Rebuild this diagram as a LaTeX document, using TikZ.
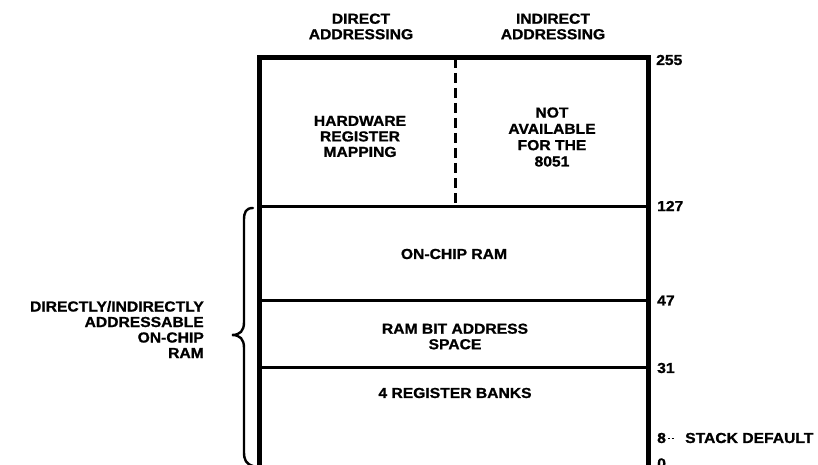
\documentclass[tikz,border=0pt]{standalone}
\usepackage{fontspec}
\newfontfamily\hw{Liberation Sans}[FakeStretch=1.08,FakeBold=1]
\begin{document}
\begin{tikzpicture}[x=1pt,y=-1pt,
  lbl/.style={font=\hw\bfseries\fontsize{14.5}{15.5}\selectfont, align=center, inner sep=0pt},
  num/.style={lbl, anchor=west},
  outer/.style={line width=5pt, line join=miter},
  divider/.style={line width=3pt},
  dashdiv/.style={line width=3pt, dash pattern=on 10pt off 5pt}]
\useasboundingbox (0,0) rectangle (818,465);
\clip (0,0) rectangle (818,465);
% frame coordinates
\coordinate (tl) at (259,58);
\coordinate (tr) at (648,58);
\coordinate (bl) at (259,490);
\coordinate (br) at (648,490);
\coordinate (l127) at (259,206); \coordinate (r127) at (648,206);
\coordinate (l47) at (259,300);  \coordinate (r47) at (648,300);
\coordinate (l31) at (259,367);  \coordinate (r31) at (648,367);
\coordinate (dtop) at (455,58);  \coordinate (dbot) at (455,206);
% frame
\draw[outer] (bl) -- (tl) -- (tr) -- (br);
\draw[outer] (bl) -- (br);
\draw[divider] (l127) -- (r127);
\draw[divider] (l47) -- (r47);
\draw[divider] (l31) -- (r31);
\draw[dashdiv] (dtop) -- (dbot);
% headers
\node[lbl] (hdir) at (361,26.5) {DIRECT\\ADDRESSING};
\node[lbl] (hind) at (553,26.5) {INDIRECT\\ADDRESSING};
% region texts
\node[lbl] (hw) at (360,136.5) {HARDWARE\\REGISTER\\MAPPING};
\node[lbl, font=\hw\bfseries\fontsize{14.5}{16.3}\selectfont] (na) at (552,137) {NOT\\AVAILABLE\\FOR THE\\8051};
\node[lbl] (ram) at (454,254) {ON-CHIP RAM};
\node[lbl] (bit) at (455,336.5) {RAM BIT ADDRESS\\SPACE};
\node[lbl] (banks) at (455,393) {4 REGISTER BANKS};
% address numbers
\node[num] (n255) at (656,60) {255};
\node[num] (n127) at (657,206) {127};
\node[num] (n47) at (657,300.5) {47};
\node[num] (n31) at (657,368) {31};
\node[num] (n8) at (657,438) {8};
\node[num] (n0) at (657,463.5) {0};
\node[num] (stack) at (685,438) {STACK DEFAULT};
\draw[line width=0.8pt, dash pattern=on 2pt off 1.5pt] (n8.east) ++(2,0) -- ++(6,0);
% left label and brace
\node[lbl, anchor=east, align=right] (dil) at (204,329.5) {DIRECTLY/INDIRECTLY\\ADDRESSABLE\\ON-CHIP\\RAM};
\coordinate (btop) at (253,208);
\coordinate (bbot) at (253,466);
\coordinate (btip) at (232,335);
\draw[line width=2.4pt, line cap=round]
  (btop) .. controls (246,208) and (244,212) .. (244,220)
  -- (244,322) .. controls (244,331) and (240,335) .. (btip)
  .. controls (240,335) and (244,339) .. (244,348)
  -- (244,452) .. controls (244,460) and (246,464) .. (bbot);
\end{tikzpicture}
\end{document}
